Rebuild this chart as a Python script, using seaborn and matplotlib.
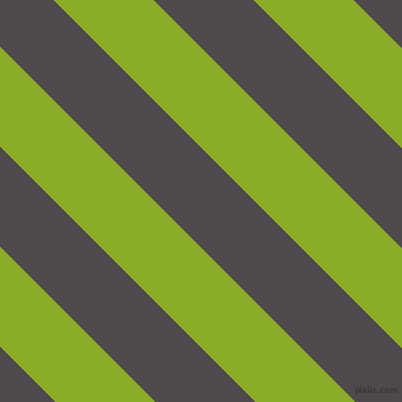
import numpy as np
import pandas as pd
import seaborn as sns
import matplotlib.pyplot as plt
from matplotlib.colors import ListedColormap

# stripe pattern
stripe_names = ["dark", "green"]
stripe_colors = ["#4e494c", "#8aac27"]
stripe_width = 100      # horizontal width of one stripe, px
stripe_offset = 54      # where the first green stripe starts on the top edge, px
image_size = 402
watermark = "pixlis.com"

#
# build a grid of stripe indices, one cell per pixel
#
cols = np.arange(image_size)
rows = np.arange(image_size)
xx, yy = np.meshgrid(cols, rows)
band = ((xx - yy - stripe_offset) // stripe_width) % len(stripe_names)
# band 0 -> green, band 1 -> dark
df = pd.DataFrame(np.where(band == 0, 1, 0), index=rows, columns=cols)

# small epsilon so the pixel size does not round down to 401
fig = plt.figure(figsize=(image_size / 100 + 0.001, image_size / 100 + 0.001), dpi=100)
ax = fig.add_axes([0, 0, 1, 1])
sns.heatmap(df, cmap=ListedColormap(stripe_colors), vmin=0, vmax=1,
            cbar=False, xticklabels=False, yticklabels=False, ax=ax)
ax.set_axis_off()

fig.text(0.99, 0.018, watermark, ha="right", va="bottom",
         fontsize=5.5, color="#3b373a", fontweight="bold")

fig.savefig("out.png", dpi=100)
